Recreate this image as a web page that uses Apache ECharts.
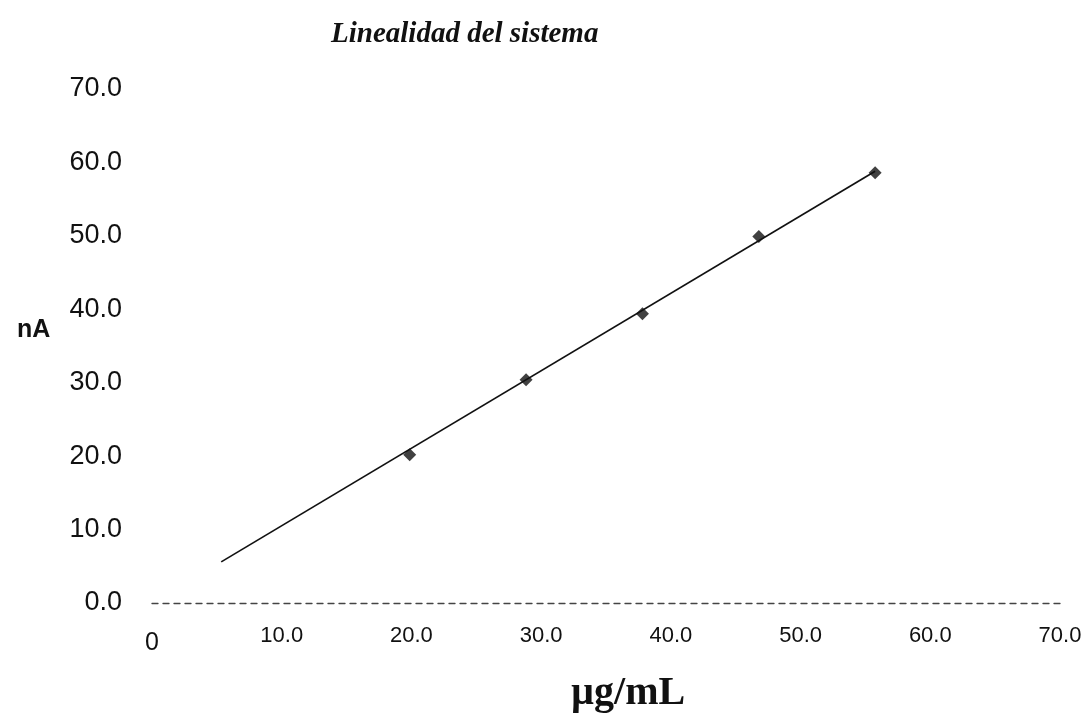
<!DOCTYPE html>
<html>
<head>
<meta charset="utf-8">
<script src="https://cdn.jsdelivr.net/npm/echarts@6/dist/echarts.min.js"></script>
<style>
  html, body { margin: 0; padding: 0; background: #ffffff; }
  #chart { width: 1087px; height: 726px; }
</style>
</head>
<body>
<div id="chart"></div>
<script>
// ---- data ----
const concentrations = [20, 30, 40, 50, 60];          // µg/mL
const currents = [20.2, 30.4, 39.4, 49.9, 58.6];      // nA
const trendX = [3.8, 60];                             // trend line ends (µg/mL)
const trendY = [5.6, 58.8];                           // trend line ends (nA)
const xTickValues = [0, 10, 20, 30, 40, 50, 60, 70];
const yTickValues = [0, 10, 20, 30, 40, 50, 60, 70];
const titleText = 'Linealidad del sistema';
const xName = 'µg/mL';
const yName = 'nA';

const points = concentrations.map((x, i) => [x, currents[i]]);
const trend = trendX.map((x, i) => [x, trendY[i]]);

const chart = echarts.init(document.getElementById('chart'), null, { renderer: 'canvas' });

chart.setOption({
  backgroundColor: '#ffffff',
  animation: false,
  title: [
    {
      text: titleText,
      left: 326, top: 15,
      textStyle: { fontFamily: 'Liberation Serif', fontStyle: 'italic', fontWeight: 'bold', fontSize: 29, color: '#111' }
    },
    {
      text: xName,
      left: 566, top: 669,
      textStyle: { fontFamily: 'Liberation Serif', fontWeight: 'bold', fontSize: 40, color: '#111' }
    },
    {
      text: yName,
      left: 12, top: 313,
      textStyle: { fontFamily: 'Liberation Sans', fontWeight: 'bold', fontSize: 25, color: '#111' }
    }
  ],
  grid: [
    { left: 177, right: 95.5, top: 89, bottom: 123 },
    { left: 152, right: 27, top: 89, bottom: 123 }
  ],
  xAxis: [
    {
      gridIndex: 0, type: 'value', min: 0, max: 70, interval: 10,
      axisLine: { show: false }, axisTick: { show: false },
      axisLabel: { show: false }, splitLine: { show: false }
    },
    {
      gridIndex: 1, type: 'value', min: 0, max: 70, interval: 10,
      axisLine: { show: true, onZero: false, lineStyle: { color: '#444', width: 1.3, type: [6, 5] } },
      axisTick: { show: false }, splitLine: { show: false },
      axisLabel: {
        margin: 22,
        color: '#111',
        fontFamily: 'Liberation Sans',
        fontSize: 22,
        formatter: function (v) {
          if (xTickValues.indexOf(v) < 0) return '';
          return v === 0 ? '{z|0}' : '{n|' + v.toFixed(1) + '}';
        },
        rich: {
          z: { fontFamily: 'Liberation Sans', fontSize: 25, color: '#111', padding: [6, 0, 0, 0] },
          n: { fontFamily: 'Liberation Sans', fontSize: 22, color: '#111' }
        }
      }
    }
  ],
  yAxis: [
    {
      gridIndex: 0, type: 'value', min: 0, max: 70, interval: 10,
      axisLine: { show: false }, axisTick: { show: false }, splitLine: { show: false },
      axisLabel: {
        margin: 55,
        color: '#111',
        fontFamily: 'Liberation Sans',
        fontSize: 27,
        formatter: function (v) {
          return yTickValues.indexOf(v) < 0 ? '' : v.toFixed(1);
        }
      }
    },
    {
      gridIndex: 1, type: 'value', min: 0, max: 70, show: false
    }
  ],
  series: [
    {
      type: 'line',
      xAxisIndex: 0, yAxisIndex: 0,
      data: trend,
      showSymbol: false,
      lineStyle: { color: '#111', width: 1.7 },
      z: 2
    },
    {
      type: 'scatter',
      xAxisIndex: 0, yAxisIndex: 0,
      data: points,
      symbol: 'diamond',
      symbolSize: 13,
      itemStyle: { color: '#111' },
      z: 3
    }
  ]
});
</script>
</body>
</html>
